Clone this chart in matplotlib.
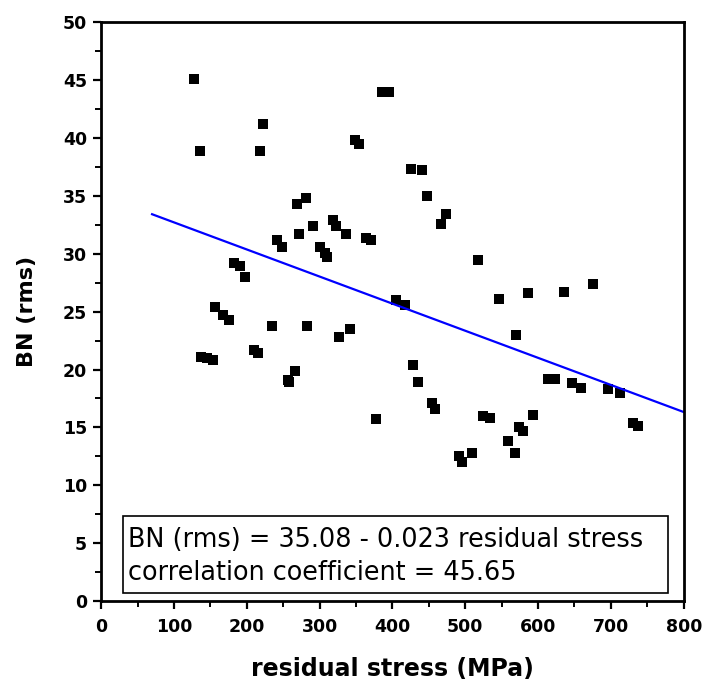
import numpy as np
import matplotlib.pyplot as plt
from matplotlib.ticker import MultipleLocator
from matplotlib.patches import Rectangle

# residual stress (MPa) and BN (rms)
stress = [127, 136, 222, 218, 386, 395, 349, 354, 269, 281, 272, 291, 319, 323,
          336, 364, 371, 241, 248, 300, 307, 310, 183, 191, 198, 156, 167, 175,
          235, 283, 327, 342, 137, 145, 153, 210, 216, 266, 256, 258, 378, 426,
          440, 448, 473, 467, 518, 547, 586, 636, 675, 405, 417, 569, 428, 435,
          455, 459, 613, 623, 646, 659, 696, 712, 730, 737, 525, 534, 593, 574,
          579, 559, 568, 491, 496, 509]
bn = [45.1, 38.9, 41.2, 38.9, 44.0, 44.0, 39.8, 39.5, 34.3, 34.8, 31.7, 32.4, 32.9, 32.4,
      31.7, 31.4, 31.2, 31.2, 30.6, 30.6, 30.1, 29.7, 29.2, 28.9, 28.0, 25.4, 24.7, 24.3,
      23.8, 23.8, 22.8, 23.5, 21.1, 21.0, 20.8, 21.7, 21.4, 19.9, 19.1, 18.9, 15.7, 37.3,
      37.2, 35.0, 33.4, 32.6, 29.5, 26.1, 26.6, 26.7, 27.4, 26.0, 25.6, 23.0, 20.4, 18.9,
      17.1, 16.6, 19.2, 19.2, 18.8, 18.4, 18.3, 18.0, 15.4, 15.1, 16.0, 15.8, 16.1, 15.0,
      14.7, 13.8, 12.8, 12.5, 12.0, 12.8]

# linear fit as drawn
fit_x = [70, 800]
fit_intercept = 35.05
fit_slope = -0.0234

fig = plt.figure(figsize=(7.02, 6.91), dpi=100)
ax = fig.add_axes([0.144, 0.130, 0.830, 0.838])

ax.plot(stress, bn, 's', color='black', markersize=6.5, markeredgewidth=0)
fx = np.array(fit_x)
ax.plot(fx, fit_intercept + fit_slope * fx, color='#0000ff', lw=1.6)

ax.set_xlim(0, 800)
ax.set_ylim(0, 50)
ax.xaxis.set_major_locator(MultipleLocator(100))
ax.xaxis.set_minor_locator(MultipleLocator(50))
ax.yaxis.set_major_locator(MultipleLocator(5))
ax.yaxis.set_minor_locator(MultipleLocator(2.5))
ax.tick_params(which='major', direction='out', length=6, width=1.6)
ax.tick_params(which='minor', direction='out', length=4, width=1.4)
ax.tick_params(axis='x', pad=6)
ax.tick_params(axis='y', pad=4)
for s in ax.spines.values():
    s.set_linewidth(2)

for lab in ax.get_xticklabels() + ax.get_yticklabels():
    lab.set_fontweight('heavy')
    lab.set_fontsize(12.5)
    lab.set_family('DejaVu Sans')

ax.set_xlabel('residual stress (MPa)', fontsize=17, fontweight='heavy', labelpad=15)
ax.set_ylabel('BN (rms)', fontsize=16, fontweight='heavy', labelpad=19)

# equation box
ax.add_patch(Rectangle((0.0377, 0.0138), 0.935, 0.133, transform=ax.transAxes,
                       fc='white', ec='black', lw=1.2, zorder=3))
ax.text(0.046, 0.0938, 'BN (rms) = 35.08 - 0.023 residual stress',
        transform=ax.transAxes, fontsize=18.4, family='DejaVu Sans',
        va='baseline', ha='left', zorder=4)
ax.text(0.046, 0.0363, 'correlation coefficient = 45.65',
        transform=ax.transAxes, fontsize=18.4, family='DejaVu Sans',
        va='baseline', ha='left', zorder=4)

fig.savefig('out.png', dpi=100)
